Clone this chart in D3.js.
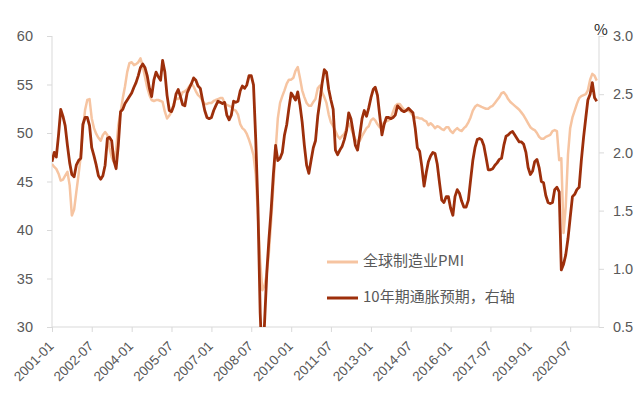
<!DOCTYPE html>
<html>
<head>
<meta charset="utf-8">
<script src="https://cdn.jsdelivr.net/npm/d3@7"></script>
<style>
  body { margin: 0; background: #fff; }
  svg { display: block; font-family: "Noto Sans CJK SC", "Noto Sans", sans-serif; }
  .axis path, .axis line { stroke: #d9d9d9; }
  .axis text { fill: #595959; }
</style>
</head>
<body>
<svg id="chart" width="640" height="399"></svg>
<script>
// monthly, 2001-01 .. 2021-07
var startMonth = "2001-01"
var tickLabels = ["2001-01","2002-07","2004-01","2005-07","2007-01","2008-07","2010-01",
                  "2011-07","2013-01","2014-07","2016-01","2017-07","2019-01","2020-07"]
var leftTicks = [30, 35, 40, 45, 50, 55, 60]
var rightTicks = [0.5, 1.0, 1.5, 2.0, 2.5, 3.0]
var seriesNames = ["全球制造业PMI", "10年期通胀预期，右轴"]

var pmi = [
  46.8,46.5,46.3,45.8,45.1,45.2,45.6,46.0,44.6,41.5,
  42.1,43.9,45.7,47.7,50.3,52.4,53.4,53.5,51.5,50.5,
  49.9,49.5,49.2,49.8,50.1,49.8,48.5,47.5,47.0,48.2,
  50.8,52.1,53.6,54.8,56.3,57.2,57.3,57.0,57.1,57.3,
  57.7,56.9,55.8,54.7,53.9,53.4,53.3,53.4,53.4,53.3,
  53.2,52.2,51.5,51.8,52.2,53.0,53.6,53.5,53.7,54.2,
  54.3,54.5,54.8,55.1,54.8,54.3,53.9,53.7,53.3,53.0,
  53.0,53.1,53.1,53.3,53.4,53.5,53.6,53.6,53.1,52.9,
  52.8,52.7,52.4,52.3,51.9,50.9,50.5,50.3,49.9,49.3,
  48.6,47.7,45.7,41.5,36.7,33.8,34.3,35.6,37.7,41.0,
  44.6,48.2,51.5,53.1,53.8,54.4,55.1,55.5,55.5,55.7,
  56.4,56.8,55.7,54.4,53.7,53.1,52.8,52.8,53.2,53.5,
  54.6,54.9,54.2,53.7,53.1,51.9,51.1,50.7,50.2,49.7,
  49.4,49.7,49.9,50.5,51.0,50.5,49.9,49.3,49.1,49.2,
  49.7,50.1,50.5,50.7,51.3,51.5,51.3,50.9,50.6,50.8,
  51.1,51.2,51.3,51.5,52.2,52.8,53.0,53.0,52.7,52.4,
  52.4,52.3,52.1,51.8,51.6,51.6,51.5,51.5,51.3,51.2,
  50.8,51.0,50.8,50.5,50.7,50.6,50.4,50.3,50.6,50.6,
  50.2,50.0,50.3,50.5,50.3,50.2,50.5,50.7,51.1,51.6,
  52.3,52.7,52.9,52.8,52.7,52.6,52.5,52.5,52.7,52.8,
  53.1,53.4,53.7,54.1,54.2,53.9,53.5,53.2,53.0,52.8,
  52.6,52.4,52.1,51.8,51.4,51.0,50.6,50.4,50.3,50.0,
  49.6,49.4,49.4,49.6,49.7,49.8,50.2,50.3,50.2,47.2,
  47.4,39.7,42.4,47.8,50.5,51.6,52.3,53.0,53.6,53.8,
  53.9,54.0,54.4,55.5,56.1,55.9,55.4
]

var inflation = [
  1.92,2.00,1.96,2.15,2.37,2.31,2.23,2.06,1.91,1.81,
  1.79,1.89,1.93,1.95,2.24,2.30,2.30,2.23,2.04,1.97,
  1.89,1.80,1.77,1.80,1.89,2.12,2.13,2.10,1.93,1.86,
  2.06,2.35,2.37,2.42,2.45,2.48,2.51,2.56,2.60,2.66,
  2.73,2.76,2.73,2.66,2.55,2.48,2.62,2.69,2.65,2.62,
  2.79,2.69,2.49,2.36,2.35,2.40,2.50,2.54,2.48,2.41,
  2.40,2.51,2.55,2.59,2.64,2.62,2.57,2.55,2.45,2.36,
  2.30,2.29,2.30,2.36,2.40,2.44,2.43,2.42,2.43,2.32,
  2.28,2.32,2.44,2.43,2.44,2.53,2.57,2.55,2.58,2.66,
  2.66,2.58,2.11,1.53,0.62,0.15,0.55,0.98,1.25,1.51,
  1.81,2.06,1.93,1.95,2.00,2.15,2.24,2.38,2.51,2.48,
  2.45,2.52,2.41,2.26,2.06,1.89,1.82,1.93,2.04,2.10,
  2.31,2.45,2.59,2.71,2.69,2.54,2.45,2.37,2.02,1.98,
  2.02,2.05,2.11,2.19,2.34,2.29,2.18,2.06,2.02,2.15,
  2.29,2.36,2.31,2.38,2.47,2.54,2.56,2.49,2.32,2.15,
  2.24,2.30,2.30,2.29,2.30,2.32,2.40,2.38,2.36,2.35,
  2.36,2.38,2.36,2.34,2.21,2.04,2.01,1.88,1.71,1.83,
  1.92,1.97,2.00,1.99,1.90,1.74,1.59,1.57,1.62,1.62,
  1.52,1.46,1.62,1.68,1.65,1.58,1.53,1.53,1.59,1.76,
  1.93,2.04,2.11,2.12,2.11,2.06,1.96,1.85,1.85,1.86,
  1.89,1.91,1.94,1.95,2.06,2.14,2.15,2.17,2.18,2.15,
  2.12,2.09,2.09,2.07,2.00,1.87,1.81,1.84,1.92,1.94,
  1.87,1.75,1.74,1.63,1.57,1.56,1.57,1.68,1.70,1.66,
  0.99,1.04,1.12,1.26,1.44,1.62,1.64,1.68,1.70,1.93,
  2.13,2.30,2.45,2.50,2.60,2.47,2.44
]

var parse = d3.timeParse("%Y-%m")
var t0 = parse(startMonth)
var months = pmi.map(function(d, i) { return d3.timeMonth.offset(t0, i) })

var svg = d3.select("#chart")
var plotLeft = 52, plotRight = 599, plotTop = 36, plotBottom = 327

var x = d3.scaleTime()
    .domain([t0, d3.timeMonth.offset(t0, pmi.length)])
    .range([plotLeft, plotRight])
var yL = d3.scaleLinear().domain([30, 60]).range([plotBottom, plotTop])
var yR = d3.scaleLinear().domain([0.5, 3.0]).range([plotBottom, plotTop])

svg.append("clipPath").attr("id", "plot")
    .append("rect")
    .attr("x", plotLeft).attr("y", plotTop - 5)
    .attr("width", plotRight - plotLeft).attr("height", plotBottom - plotTop + 5)

// axes
var gx = svg.append("g")
    .attr("class", "axis")
    .attr("transform", "translate(0," + plotBottom + ")")
    .call(d3.axisBottom(x)
        .tickValues(tickLabels.map(parse))
        .tickFormat(d3.timeFormat("%Y-%m"))
        .tickSize(5)
        .tickSizeOuter(0))
gx.select(".domain").attr("d", "M" + plotLeft + ",0H" + plotRight)
gx.selectAll("text")
    .style("font-size", "13.5px")
    .attr("text-anchor", "end")
    .attr("dy", null)
    .attr("y", 0)
    .attr("transform", "translate(2,20) rotate(-45)")

var gl = svg.append("g")
    .attr("class", "axis")
    .attr("transform", "translate(" + plotLeft + ",0)")
    .call(d3.axisLeft(yL).tickValues(leftTicks).tickSize(5).tickSizeOuter(0).tickPadding(14))
gl.select(".domain").attr("d", "M0," + plotTop + "V" + plotBottom)
gl.selectAll("text").style("font-size", "14.5px")

var gr = svg.append("g")
    .attr("class", "axis")
    .attr("transform", "translate(" + plotRight + ",0)")
    .call(d3.axisRight(yR).tickValues(rightTicks).tickFormat(d3.format(".1f"))
        .tickSize(5).tickSizeOuter(0).tickPadding(9))
gr.select(".domain").attr("d", "M0," + plotTop + "V" + plotBottom)
gr.selectAll("text").style("font-size", "14.5px")

svg.append("text")
    .attr("x", 601).attr("y", 31)
    .attr("text-anchor", "middle")
    .attr("dominant-baseline", "middle")
    .style("font-size", "15px")
    .attr("fill", "#262626")
    .text("%")

// lines
var linePmi = d3.line()
    .x(function(d, i) { return x(months[i]) })
    .y(function(d) { return yL(d) })
var lineInf = d3.line()
    .x(function(d, i) { return x(months[i]) })
    .y(function(d) { return yR(d) })

var plot = svg.append("g").attr("clip-path", "url(#plot)")
plot.append("path")
    .datum(pmi)
    .attr("d", linePmi)
    .attr("fill", "none")
    .attr("stroke", "#f6c4a1")
    .attr("stroke-width", 2.5)
    .attr("stroke-linejoin", "round")
plot.append("path")
    .datum(inflation)
    .attr("d", lineInf)
    .attr("fill", "none")
    .attr("stroke", "#9d2f0b")
    .attr("stroke-width", 2.8)
    .attr("stroke-linejoin", "round")

// legend
var legendColors = ["#f6c4a1", "#9d2f0b"]
var legend = svg.selectAll(".legend")
    .data(seriesNames)
    .enter().append("g")
    .attr("class", "legend")
    .attr("transform", function(d, i) { return "translate(327," + (262 + i * 36) + ")" })
legend.append("line")
    .attr("x1", 0).attr("x2", 31)
    .attr("stroke", function(d, i) { return legendColors[i] })
    .attr("stroke-width", 3)
legend.append("text")
    .attr("x", 36)
    .attr("dominant-baseline", "middle")
    .style("font-size", "15px")
    .attr("fill", "#595959")
    .text(function(d) { return d })
</script>
</body>
</html>
